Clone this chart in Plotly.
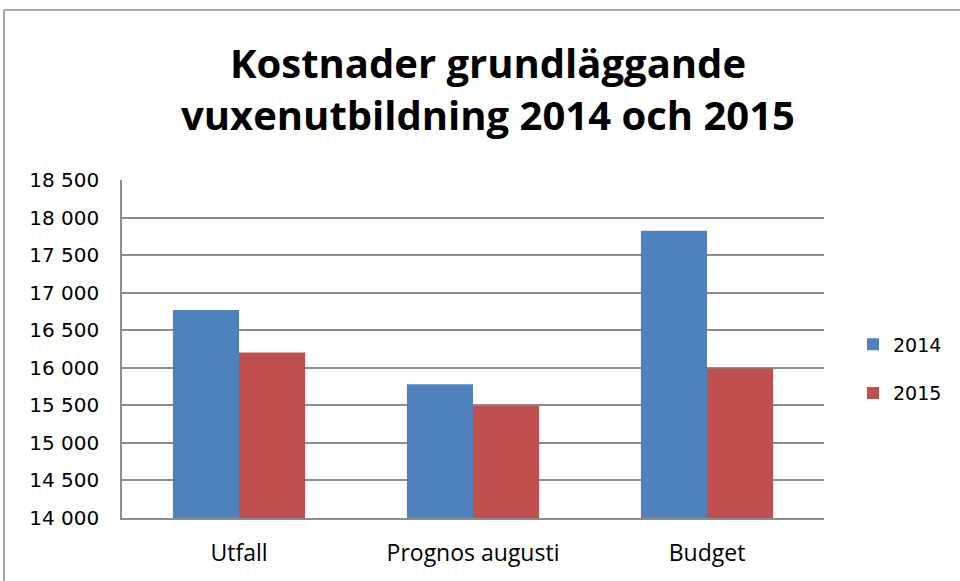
import plotly.graph_objects as go

categories = ["Utfall", "Prognos augusti", "Budget"]
series_names = ["2014", "2015"]
values_2014 = [16770, 15780, 17825]
values_2015 = [16205, 15495, 15990]
tick_vals = [14000, 14500, 15000, 15500, 16000, 16500, 17000, 17500, 18000, 18500]
tick_text = ["14 000", "14 500", "15 000", "15 500", "16 000", "16 500", "17 000", "17 500", "18 000", "18 500"]
colors = ["#4F81BD", "#C0504D"]

TICKFONT = "DejaVu Sans"
LABELFONT = "Open Sans"

fig = go.Figure()
for name, vals, col in zip(series_names, [values_2014, values_2015], colors):
    fig.add_trace(go.Bar(x=categories, y=vals, name=name, legendgroup=name,
                         marker=dict(color=col, line=dict(width=0))))

L, R, T, B = 122, 136, 180, 63
W, H = 960, 581
pw, ph = W - L - R, H - T - B

def px(x):
    return (x - L) / pw

def py(y):
    return (H - B - y) / ph

fig.update_layout(
    width=W, height=H,
    margin=dict(l=L, r=R, t=T, b=B, pad=0, autoexpand=False),
    paper_bgcolor="white", plot_bgcolor="white",
    barmode="group", bargap=0.435, bargroupgap=0,
    font=dict(family=TICKFONT, size=19, color="black"),
    title=dict(
        text="<b>Kostnader grundläggande<br>vuxenutbildning 2014 och 2015</b>",
        x=px(488), xanchor="center", xref="paper", y=1 - 78 / H, yanchor="middle", yref="container",
        font=dict(family=LABELFONT, size=40, color="black"),
    ),
    legend=dict(
        x=px(853), y=py(369), xanchor="left", yanchor="middle",
        font=dict(family=TICKFONT, size=19, color="black"),
        tracegroupgap=21, itemwidth=30, bgcolor="rgba(0,0,0,0)",
    ),
    xaxis=dict(
        showline=True, linecolor="#8c8c8c", linewidth=1.5,
        ticks="", tickfont=dict(family=LABELFONT, size=23, color="black"),
        ticklabelstandoff=14,
    ),
    yaxis=dict(
        range=[14000, 18500], tickvals=tick_vals, ticktext=tick_text,
        showgrid=True, gridcolor="#8c8c8c", gridwidth=1.5,
        showline=True, linecolor="#8c8c8c", linewidth=1.5,
        zeroline=False, ticks="", ticklabelstandoff=17,
        tickfont=dict(family=TICKFONT, size=20, color="black"),
    ),
    shapes=[
        dict(type="line", xref="paper", yref="paper", x0=px(4), x1=px(962), y0=py(10), y1=py(10),
             line=dict(color="#8a8a8a", width=1.5)),
        dict(type="line", xref="paper", yref="paper", x0=px(4), x1=px(4), y0=py(10), y1=py(590),
             line=dict(color="#8a8a8a", width=1.5)),
    ],
)

fig.write_html("out.html", config={"displayModeBar": False},
               post_script="document.body.style.margin='0';document.body.style.overflow='hidden';")
